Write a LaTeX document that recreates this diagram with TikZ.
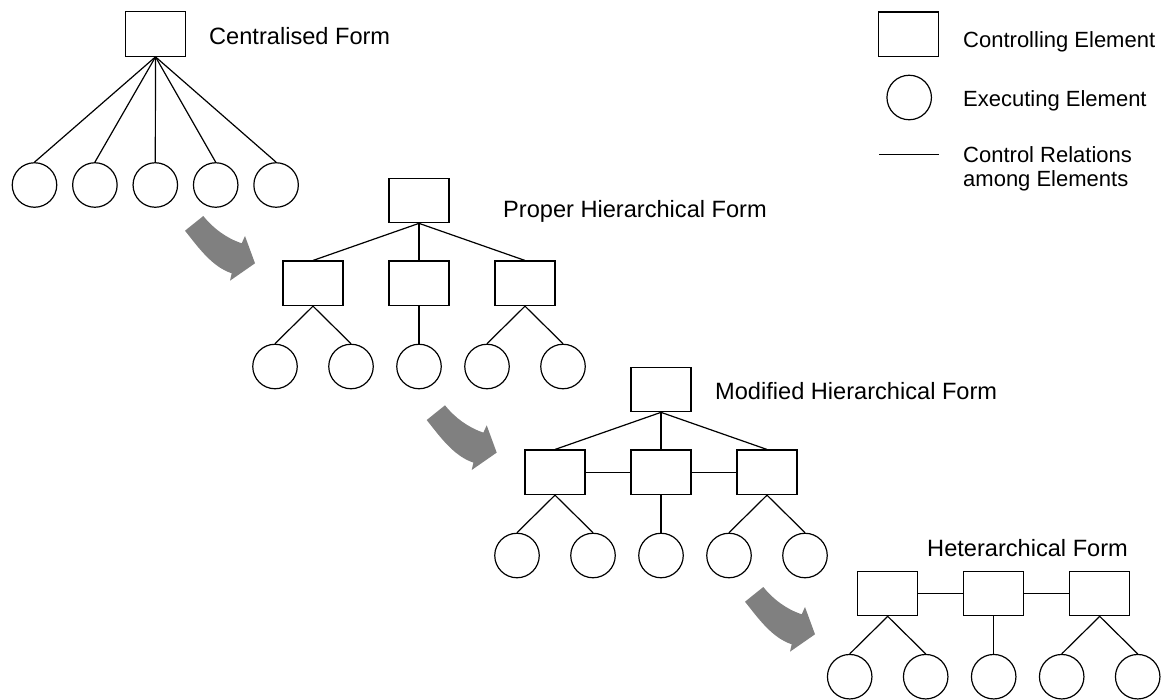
\documentclass[tikz,border=0pt]{standalone}
\usepackage{fontspec}
\setmainfont{Liberation Sans}
\definecolor{arrowfill}{RGB}{128,128,128}

% curved grey transition arrow, origin at the outer corner of its tail
\newcommand\formarrow[2]{%
  \fill[arrowfill, shift={(#1,#2)}]
    (0,0) .. controls (13.1,16.4) and (26.8,36) .. (46.7,42.6)
    -- (45,50) -- (70,32.6) -- (60,5.3) -- (56.7,12.6)
    .. controls (41.5,7.5) and (28.3,-2.2) .. (18.3,-14.7) -- cycle;}

\begin{document}
\begin{tikzpicture}[x=1pt,y=-1pt,
  ctrl/.style={draw, rectangle, minimum width=60pt, minimum height=44.5pt,
               inner sep=0pt, line width=1.2pt},
  exec/.style={draw, circle, minimum size=44.5pt, inner sep=0pt, line width=1.2pt},
  rel/.style={line width=1.2pt},
  title/.style={anchor=base west, inner sep=0pt, font=\fontsize{23.6}{28}\selectfont},
  legendtext/.style={anchor=base west, inner sep=0pt, font=\fontsize{22}{26}\selectfont}]

\useasboundingbox (0,0) rectangle (1167,699);

% ---- centralised form
\node[ctrl] (cen) at (155.5,34) {};
\foreach \i/\x in {1/34.5,2/94.9,3/155.3,4/215.7,5/276.1}{
  \node[exec] (cen\i) at (\x,185) {};
  \draw[rel] (cen.south) -- (cen\i.north);
}
\node[title] (tcen) at (209,44.5) {Centralised Form};

% ---- proper hierarchical form
\node[ctrl] (pro) at (419,200.5) {};
\node[ctrl] (proA) at (313,283.3) {};
\node[ctrl] (proB) at (419,283.3) {};
\node[ctrl] (proC) at (525,283.3) {};
\foreach \b in {proA,proB,proC} \draw[rel] (pro.south) -- (\b.north);
\node[exec] (proA1) at (275,366.5) {};
\node[exec] (proA2) at (351,366.5) {};
\node[exec] (proB1) at (419,366.5) {};
\node[exec] (proC1) at (487,366.5) {};
\node[exec] (proC2) at (563,366.5) {};
\draw[rel] (proA.south) -- (proA1.north);
\draw[rel] (proA.south) -- (proA2.north);
\draw[rel] (proB.south) -- (proB1.north);
\draw[rel] (proC.south) -- (proC1.north);
\draw[rel] (proC.south) -- (proC2.north);
\node[title] (tpro) at (503,217) {Proper Hierarchical Form};

% ---- modified hierarchical form
\node[ctrl] (mod) at (661,389.5) {};
\node[ctrl] (modA) at (555,472.3) {};
\node[ctrl] (modB) at (661,472.3) {};
\node[ctrl] (modC) at (767,472.3) {};
\foreach \b in {modA,modB,modC} \draw[rel] (mod.south) -- (\b.north);
\draw[rel] (modA.east) -- (modB.west);
\draw[rel] (modB.east) -- (modC.west);
\node[exec] (modA1) at (517,555.5) {};
\node[exec] (modA2) at (593,555.5) {};
\node[exec] (modB1) at (661,555.5) {};
\node[exec] (modC1) at (729,555.5) {};
\node[exec] (modC2) at (805,555.5) {};
\draw[rel] (modA.south) -- (modA1.north);
\draw[rel] (modA.south) -- (modA2.north);
\draw[rel] (modB.south) -- (modB1.north);
\draw[rel] (modC.south) -- (modC1.north);
\draw[rel] (modC.south) -- (modC2.north);
\node[title] (tmod) at (715,399.5) {Modified Hierarchical Form};

% ---- heterarchical form
\node[ctrl] (hetA) at (887.7,593.5) {};
\node[ctrl] (hetB) at (993.7,593.5) {};
\node[ctrl] (hetC) at (1099.7,593.5) {};
\draw[rel] (hetA.east) -- (hetB.west);
\draw[rel] (hetB.east) -- (hetC.west);
\node[exec] (hetA1) at (849.7,676.7) {};
\node[exec] (hetA2) at (925.7,676.7) {};
\node[exec] (hetB1) at (993.7,676.7) {};
\node[exec] (hetC1) at (1061.7,676.7) {};
\node[exec] (hetC2) at (1137.7,676.7) {};
\draw[rel] (hetA.south) -- (hetA1.north);
\draw[rel] (hetA.south) -- (hetA2.north);
\draw[rel] (hetB.south) -- (hetB1.north);
\draw[rel] (hetC.south) -- (hetC1.north);
\draw[rel] (hetC.south) -- (hetC2.north);
\node[title] (thet) at (927,556) {Heterarchical Form};

% ---- transition arrows
\formarrow{185}{230.7}
\formarrow{426.7}{420}
\formarrow{745}{601.7}

% ---- legend
\node[ctrl] (lgbox) at (908.8,34.2) {};
\node[exec] (lgcirc) at (909.2,97.5) {};
\coordinate (lgl) at (879,154.3);
\coordinate (lgr) at (939.3,154.3);
\draw[rel] (lgl) -- (lgr);
\node[legendtext] (lt1) at (963,47) {Controlling Element};
\node[legendtext] (lt2) at (963,106.5) {Executing Element};
\node[legendtext] (lt3) at (963,162.7) {Control Relations};
\node[legendtext] (lt4) at (963,186.7) {among Elements};
\end{tikzpicture}
\end{document}
